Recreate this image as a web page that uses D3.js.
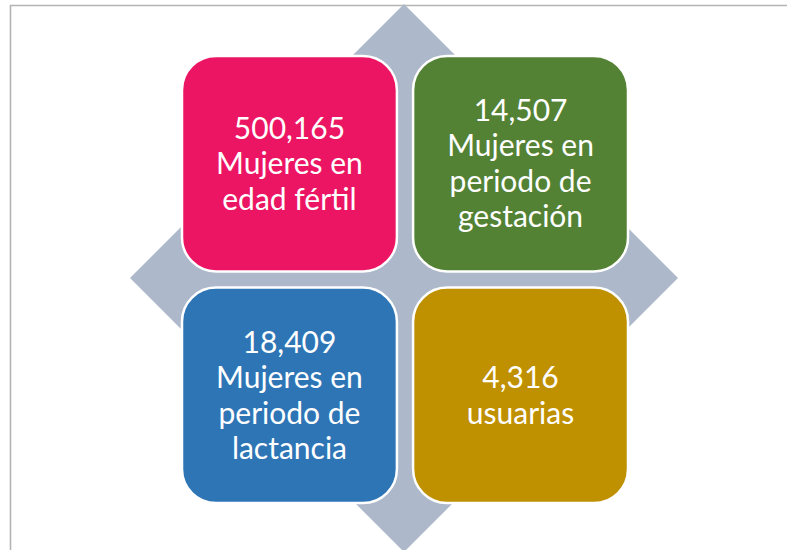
<!DOCTYPE html>
<html><head><meta charset="utf-8">
<script src="https://cdn.jsdelivr.net/npm/d3@7"></script>
<style>html,body{margin:0;padding:0;background:#fff;}svg{display:block;}</style>
</head><body>
<svg id="c" width="787" height="550"></svg>
<script>
const values = ["500,165", "14,507", "18,409", "4,316"];
const labels = [["Mujeres en", "edad fértil"], ["Mujeres en", "periodo de", "gestación"], ["Mujeres en", "periodo de", "lactancia"], ["usuarias"]];
const colors = ["#EC1563", "#548235", "#2E75B6", "#BF9000"];
const cols = [0, 1, 0, 1];
const rows = [0, 0, 1, 1];

const svg = d3.select("#c");
const W = 787, H = 550;

// frame
svg.append("path").attr("d", `M10.5,${H} V5.5 H${W}`).attr("fill", "none").attr("stroke", "#b4b4b4").attr("stroke-width", 1.6);

const cx = 404, cy = 278, r = 274;
svg.append("path")
  .attr("d", `M${cx},${cy - r} L${cx + r},${cy} L${cx},${cy + r} L${cx - r},${cy} Z`)
  .attr("fill", "#ADB9CA");

const x = d3.scaleBand().domain([0, 1]).range([182, 628]).paddingInner(0.07);
const y = d3.scaleBand().domain([0, 1]).range([56, 503]).paddingInner(0.07);

const g = svg.selectAll("g.box").data(values.map((v, i) => ({v, lab: labels[i], c: colors[i], col: cols[i], row: rows[i]})))
  .join("g").attr("class", "box")
  .attr("transform", d => `translate(${x(d.col)},${y(d.row)})`);

g.append("rect")
  .attr("width", x.bandwidth()).attr("height", y.bandwidth())
  .attr("rx", 34).attr("ry", 34)
  .attr("fill", d => d.c).attr("stroke", "#fff").attr("stroke-width", 2.5);

const lh = 35.5;
g.each(function(d) {
  const lines = [d.v, ...d.lab];
  const n = lines.length;
  const t = d3.select(this).append("text")
    .attr("text-anchor", "middle")
    .attr("fill", "#fff")
    .attr("font-family", "Lato, 'Open Sans', sans-serif")
    .attr("font-size", 30);
  lines.forEach((s, k) => {
    t.append("tspan")
      .attr("x", x.bandwidth() / 2)
      .attr("y", y.bandwidth() / 2 + (k - (n - 1) / 2) * lh)
      .attr("dy", "0.35em")
      .text(s);
  });
});
</script>
</body></html>
